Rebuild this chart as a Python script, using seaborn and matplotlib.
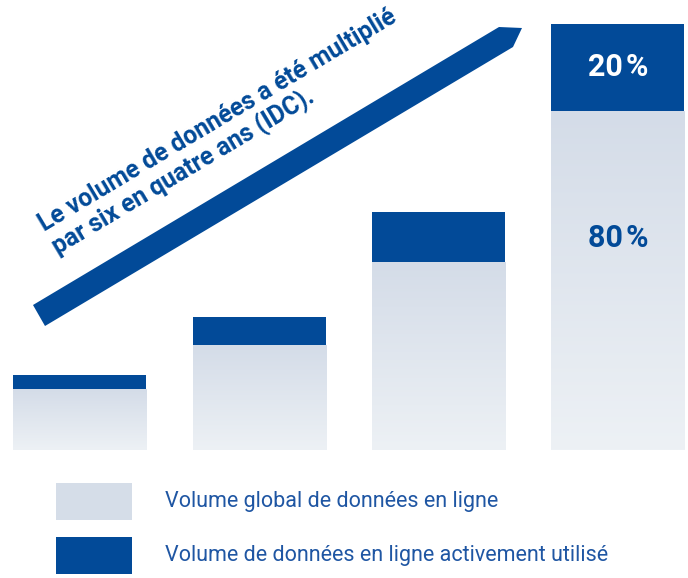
import numpy as np
import pandas as pd
import matplotlib
matplotlib.use("Agg")
import matplotlib.pyplot as plt
from matplotlib.patches import Polygon, Rectangle
from matplotlib.colors import LinearSegmentedColormap
import seaborn as sns

# values (arbitrary units, bar heights)
periods = ["1", "2", "3", "4"]
volume_global = [61, 105, 188, 339]   # light part of each bar
volume_actif = [14, 28, 50, 87]       # dark part on top

headline = "Le volume de données a été multiplié\npar six en quatre ans (IDC)."
legend_labels = ["Volume global de données en ligne",
                 "Volume de données en ligne activement utilisé"]

BLUE = "#024a98"
LIGHT_TOP = "#d4dce8"
LIGHT_BOT = "#edf1f5"
TXT = "#1f56a3"

sns.set_theme(style="white")
fonts = ["Roboto", "DejaVu Sans"]

df = pd.DataFrame({"periode": periods, "global": volume_global, "actif": volume_actif})
df["total"] = df["global"] + df["actif"]

fig = plt.figure(figsize=(6.88, 5.78), dpi=100)
ax = fig.add_axes([0, 0, 1, 1])

# dark bars = total, light bars drawn over them = global volume
sns.barplot(data=df, x="periode", y="total", color=BLUE, width=0.741,
            saturation=1, errorbar=None, linewidth=0, ax=ax)
n_dark = len(ax.patches)
sns.barplot(data=df, x="periode", y="global", color=LIGHT_TOP, width=0.741,
            saturation=1, errorbar=None, linewidth=0, ax=ax)

# vertical gradient inside the light bars
grad = np.linspace(0, 1, 256).reshape(-1, 1)
cmap = LinearSegmentedColormap.from_list("fade", [LIGHT_BOT, LIGHT_TOP])
for p in ax.patches[n_dark:]:
    x0, y0 = p.get_x(), p.get_y()
    w, h = p.get_width(), p.get_height()
    im = ax.imshow(grad, extent=[x0, x0 + w, y0, y0 + h], origin="lower",
                   cmap=cmap, aspect="auto", zorder=p.get_zorder() + 0.1)
    im.set_clip_path(p)

# percentages on the last bar
last = df.iloc[-1]
pct_actif = round(100 * last["actif"] / last["total"])
pct_global = 100 - pct_actif
ax.text(3, last["global"] + last["actif"] / 2, f"{pct_actif}\u200a%", color="white",
        ha="center", va="center", fontsize=22, fontweight="bold", family=fonts, zorder=5)
ax.text(3, 212, f"{pct_global}\u200a%", color=BLUE,
        ha="center", va="center", fontsize=22, fontweight="bold", family=fonts, zorder=5)

ax.set_xlim(-0.443, 3.39)
ax.set_ylim(-128, 450)
ax.axis("off")

# arrow, headline and legend in pixel coordinates
deco = fig.add_axes([0, 0, 1, 1], facecolor="none")
deco.set_xlim(0, 688)
deco.set_ylim(578, 0)
deco.axis("off")

deco.add_patch(Polygon([(33, 305), (499, 27), (522, 28), (513, 47), (45, 326)],
                       closed=True, color=BLUE, lw=0))
# anchored on the baseline of the second line
deco.text(58, 254, headline, rotation=30.8, rotation_mode="anchor",
          ha="left", va="baseline", color=BLUE, fontsize=17.7, fontweight="bold",
          family=fonts, linespacing=1.05)

for i, (lab, col) in enumerate(zip(legend_labels, ["#d5dde8", BLUE])):
    y = 483 + i * 53.5
    deco.add_patch(Rectangle((56, y), 76, 37, color=col, lw=0))
    deco.text(165, y + 19, lab, va="center", ha="left", fontsize=15.5,
              color=TXT, family=fonts)

fig.savefig("out.png", dpi=100)
